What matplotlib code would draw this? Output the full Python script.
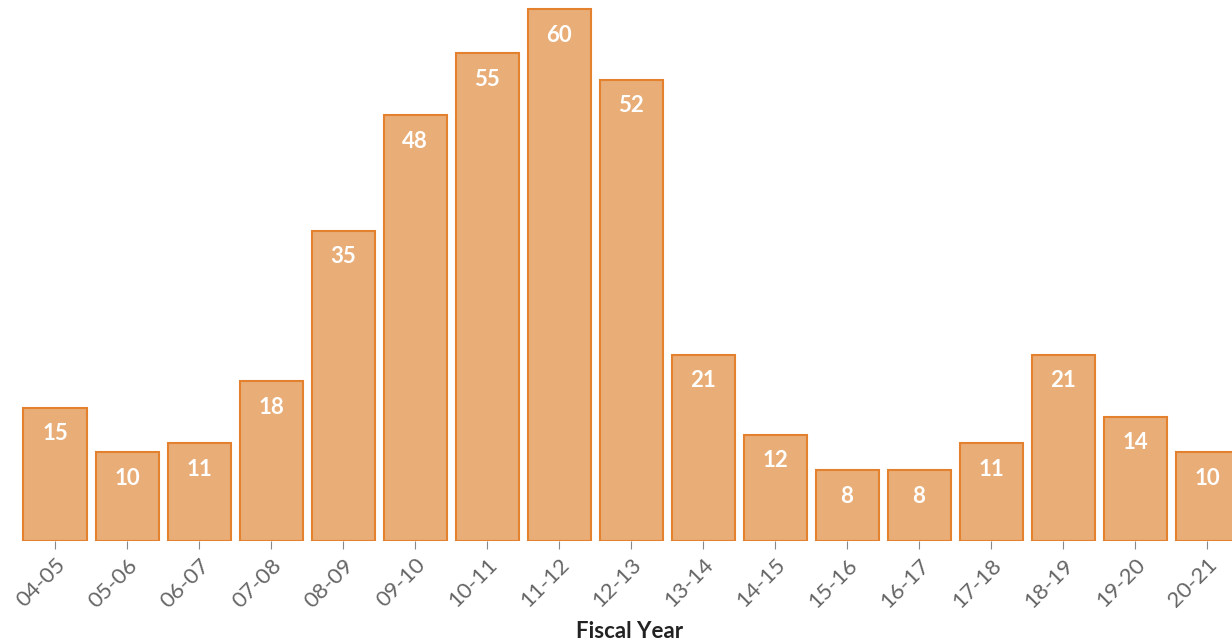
import numpy as np
from matplotlib import pyplot as plt

plt.rcParams['font.family'] = ['Lato', 'DejaVu Sans']

anos = ["04-05", "05-06", "06-07", "07-08", "08-09", "09-10", "10-11", "11-12", "12-13",
        "13-14", "14-15", "15-16", "16-17", "17-18", "18-19", "19-20", "20-21"]
valores = [15, 10, 11, 18, 35, 48, 55, 60, 52, 21, 12, 8, 8, 11, 21, 14, 10]

fig = plt.figure(figsize=(12.32, 6.44), dpi=100)
ax = fig.add_axes([0, 1 - 541 / 644, 1, 541 / 644])

x = np.arange(len(anos))
barras = ax.bar(x, valores, width=0.875, color="#E9AD77", edgecolor="#E3812F", linewidth=1.5)

for xi, v in zip(x, valores):
    ax.annotate(str(v), (xi, v), xytext=(0, -26), textcoords="offset pixels",
                ha="center", va="center", color="white", fontsize=16, fontweight="bold")

ax.set_xlim(-55 / 72, (1232 - 55) / 72)
ax.set_ylim(0, 541 / (532 / 60))
ax.set_xticks(x)
ax.set_xticklabels(anos, rotation=45, ha="right", rotation_mode="anchor", color="#666666", fontsize=16)
ax.tick_params(axis="x", length=6, color="#888888", pad=4)
ax.set_yticks([])
for s in ax.spines.values():
    s.set_visible(False)

fig.text(630 / 1232, 1 - 631 / 644, "Fiscal Year", ha="center", va="center",
         fontsize=16, fontweight="bold", color="#222222")

fig.savefig("out.png", dpi=100)
